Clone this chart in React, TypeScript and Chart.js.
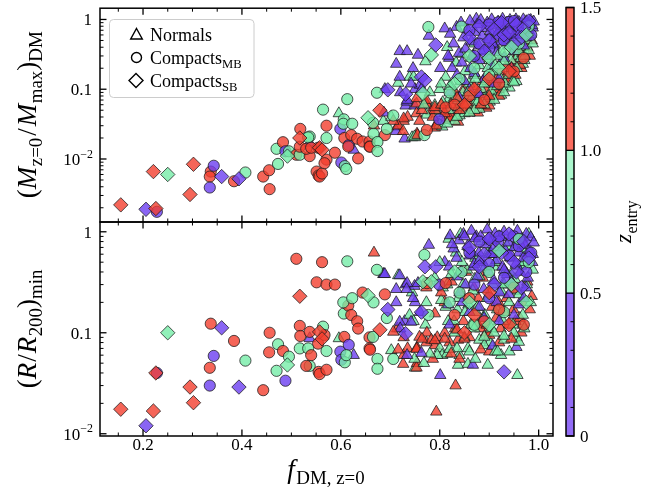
import React, { useEffect, useRef } from 'react';
import { Chart, registerables } from 'chart.js';

Chart.register(...registerables);

const W = 659;
const H = 498;

// ---------------- axes, ticks ----------------
const xRange = [0.113, 1.029];
const topRange = [0.00125, 1.45];
const botRange = [0.0095, 1.25];
const xMajorTicks = [0.2, 0.4, 0.6, 0.8, 1.0];
const xTickLabels = ['0.2', '0.4', '0.6', '0.8', '1.0'];
const xMinorTicks = [0.15, 0.25, 0.3, 0.35, 0.45, 0.5, 0.55, 0.65, 0.7, 0.75, 0.85, 0.9, 0.95];
const yMajorTicks = [0.01, 0.1, 1];
const yTickLabels = ['10|−2', '0.1', '1'];
const logDecades = [0.001, 0.01, 0.1];
const zTicks = [0, 0.5, 1.0, 1.5];
const zTickLabels = ['0', '0.5', '1.0', '1.5'];
const zMinorTicks = [0.1, 0.2, 0.3, 0.4, 0.6, 0.7, 0.8, 0.9, 1.1, 1.2, 1.3, 1.4];
const zBinEdges = [0, 0.5, 1.0, 1.5];
const legendLabels = ['Normals', 'Compacts|MB', 'Compacts|SB'];

// ---------------- data: Normals (triangles) ----------------
const normalsSparseFdm = [0.537,0.596,0.626,0.686,0.687,0.714,0.716,0.689,0.729,0.744, 0.75,0.754,0.79,0.727,0.735,0.731,0.749,0.753,0.773,0.79, 0.719,0.734,0.712,0.756,0.771,0.778,0.81,0.815,0.819,0.733, 0.739,0.747,0.75,0.76,0.753,0.774,0.783,0.773,0.795,0.81, 0.837,0.8,0.805,0.749,0.755,0.712,0.727,0.877,0.894,0.857, 0.901,0.924,0.941,0.955,0.965,0.968,0.874,0.988,0.832,0.793, 0.801,0.957,0.667];
const normalsSparseMass = [0.017,0.045,0.0135,0.035,0.046,0.029,0.123,0.1,0.0195,0.0204, 0.0204,0.023,0.028,0.035,0.04,0.058,0.058,0.062,0.062,0.059, 0.35,0.35,0.23,0.31,0.25,0.58,0.74,0.4,0.28,0.066, 0.15,0.15,0.1,0.115,0.074,0.06,0.048,0.043,0.033,0.036, 0.034,0.031,0.029,0.021,0.022,0.025,0.038,0.046,0.054,0.05, 0.066,0.083,0.105,0.13,0.2,0.23,1.02,0.76,0.04,0.03, 0.2,0.3,0.03];
const normalsSparseRmin = [0.088,0.088,0.06,0.38,0.38,0.11,0.37,0.38,0.13,0.25, 0.045,0.05,0.075,0.06,0.07,0.3,0.29,0.07,0.08,0.35, 0.37,0.31,0.27,0.31,0.12,0.74,0.5,0.3,0.45,0.27, 0.15,0.13,0.2,0.16,0.045,0.1,0.085,0.2,0.09,0.1, 0.085,0.07,0.06,0.055,0.07,0.2,0.09,0.12,0.1,0.07, 0.08,0.06,0.065,0.09,0.1,0.12,0.9,0.6,0.03,0.0165, 0.038,0.038,0.62];
const normalsSparseZ = [0.3,0.8,0.3,0.8,0.3,1.2,0.8,0.3,0.3,0.8, 0.8,1.2,1.2,1.2,1.2,0.3,0.3,1.2,1.2,0.8, 0.3,0.3,0.3,0.3,0.8,0.3,0.3,0.8,0.3,0.3, 0.8,0.8,0.3,0.3,1.2,1.2,1.2,0.8,1.2,1.2, 1.2,0.8,0.8,0.8,1.2,0.3,1.2,1.2,1.2,0.8, 0.8,0.8,0.8,0.8,1.2,0.8,0.3,0.3,1.2,1.2, 0.3,0.8,1.2];

const normalsGreenFdm = [0.8,0.806,0.812,0.818,0.823,0.829,0.833,0.838,0.842,0.847, 0.851,0.855,0.859,0.863,0.867,0.872,0.876,0.88,0.884,0.888, 0.892,0.896,0.9,0.904,0.908,0.912,0.916,0.92,0.924,0.928, 0.932,0.936,0.94,0.944,0.948,0.952,0.956,0.96,0.964,0.968, 0.972,0.976,0.98,0.984,0.988, 0.83,0.85,0.87,0.89,0.91,0.93,0.95, 0.845,0.87,0.9,0.93,0.955,0.97, 0.815,0.835,0.86,0.795];
const normalsGreenMass = [0.1,0.065,0.15,0.05,0.11,0.075,0.24,0.055,0.13,0.09, 0.18,0.06,0.12,0.28,0.08,0.16,0.065,0.22,0.1,0.35, 0.075,0.14,0.26,0.095,0.18,0.42,0.11,0.22,0.14,0.32, 0.12,0.5,0.16,0.26,0.13,0.38,0.2,0.6,0.28,0.4, 0.3,0.5,0.36,0.62,0.45, 0.035,0.045,0.05,0.06,0.07,0.09,0.125, 0.32,0.45,0.55,0.7,0.8,0.7, 0.032,0.04,0.046,0.045];
const normalsGreenRmin = [0.5,0.28,0.18,0.85,0.38,0.13,0.62,0.22,0.95,0.3, 0.16,0.42,0.7,0.12,0.26,0.55,0.18,0.36,0.8,0.14, 0.45,0.22,0.65,0.11,0.3,0.5,0.17,0.9,0.26,0.13, 0.4,0.72,0.2,0.55,0.12,0.34,0.8,0.24,0.46,0.15, 0.62,0.3,0.95,0.2,0.42, 0.1,0.09,0.11,0.075,0.1,0.085,0.1, 0.5,0.34,0.6,0.3,0.7,0.5, 0.062,0.07,0.065,0.06];
const normalsGreenZ = [0.8,0.8,0.8,0.8,0.8,0.8,0.8,0.8,0.8,0.8, 0.8,0.8,0.8,0.8,0.8,0.8,0.8,0.8,0.8,0.8, 0.8,0.8,0.8,0.8,0.8,0.8,0.8,0.8,0.8,0.8, 0.8,0.8,0.8,0.8,0.8,0.8,0.8,0.8,0.8,0.8, 0.8,0.8,0.8,0.8,0.8, 0.8,0.8,0.8,0.8,0.8,0.8,0.8, 0.8,0.8,0.8,0.8,0.8,0.8, 0.8,0.8,0.8,0.8];

// lower band of the dense cluster (mostly high z_entry, some mid)
const normalsBandFdm = [0.81,0.817,0.824,0.831,0.836,0.842,0.848,0.853,0.858,0.864, 0.869,0.874,0.878,0.882,0.887,0.891,0.895,0.9,0.906,0.91, 0.914,0.919,0.923,0.927,0.931,0.935,0.94,0.944,0.949,0.953, 0.958,0.962,0.967,0.971,0.977,0.982,0.986, 0.86,0.88,0.9,0.92,0.82,0.84];
const normalsBandMass = [0.048,0.07,0.04,0.09,0.055,0.065,0.1,0.05,0.075,0.058, 0.11,0.07,0.09,0.06,0.13,0.08,0.1,0.075,0.12,0.09, 0.15,0.1,0.18,0.11,0.14,0.22,0.13,0.17,0.25,0.16, 0.3,0.22,0.33,0.26,0.4,0.3,0.5, 0.046,0.052,0.058,0.08,0.038,0.042];
const normalsBandRmin = [0.2,0.13,0.32,0.11,0.17,0.25,0.13,0.4,0.19,0.12, 0.28,0.16,0.22,0.11,0.35,0.15,0.12,0.24,0.18,0.45, 0.14,0.2,0.11,0.3,0.16,0.22,0.12,0.38,0.17,0.13, 0.26,0.14,0.2,0.11,0.32,0.17,0.23, 0.09,0.085,0.095,0.08,0.08,0.06];
const normalsBandZ = [1.2,0.8,1.2,1.2,0.8,1.2,1.2,1.2,0.8,1.2, 1.2,0.8,1.2,1.2,1.2,0.8,1.2,1.2,1.2,0.8, 1.2,1.2,1.2,0.8,1.2,1.2,1.2,0.8,1.2,1.2, 0.8,1.2,1.2,0.8,1.2,1.2,1.2, 1.2,0.8,1.2,1.2,1.2,0.8];

const normalsPurpleFdm = [0.821,0.828,0.834,0.839,0.843,0.848,0.852,0.856,0.861,0.864, 0.868,0.871,0.876,0.879,0.883,0.886,0.889,0.893,0.896,0.899, 0.902,0.905,0.909,0.912,0.915,0.918,0.921,0.924,0.927,0.93, 0.933,0.936,0.939,0.942,0.945,0.948,0.951,0.954,0.957,0.96, 0.963,0.966,0.969,0.972,0.975,0.978,0.981,0.984,0.987,0.99, 0.845,0.862,0.88,0.898,0.915,0.94,0.96,0.975, 0.825,0.835,0.85,0.87,0.905,0.93,0.95,0.97, 0.89,0.91,0.86,0.82,0.84,0.88,0.92,0.945];
const normalsPurpleMass = [0.62,0.45,0.78,0.33,0.9,0.55,0.38,0.72,0.95,0.48, 0.3,0.66,0.85,0.42,0.98,0.58,0.36,0.75,0.9,0.52, 0.68,1.0,0.43,0.82,0.6,0.93,0.72,0.48,1.02,0.8, 0.62,0.9,0.55,0.98,0.7,0.84,0.6,1.0,0.76,0.92, 0.66,0.86,1.0,0.78,0.94,0.7,0.88,0.98,0.82,0.93, 0.24,0.2,0.26,0.3,0.34,0.42,0.5,0.55, 0.2,0.16,0.13,0.17,0.22,0.28,0.35,0.42, 0.14,0.12,0.1,0.09,0.075,0.085,0.14,0.2];
const normalsPurpleRmin = [0.92,0.68,0.55,0.82,0.4,0.95,0.3,0.72,0.58,1.02, 0.45,0.86,0.36,0.62,0.9,0.5,0.27,0.75,1.05,0.4, 0.6,0.82,0.33,0.96,0.52,0.7,0.25,0.88,0.45,1.0, 0.65,0.38,0.78,0.56,0.92,0.3,0.7,0.48,1.02,0.62, 0.4,0.85,0.55,0.74,0.95,0.35,0.66,0.88,0.5,0.78, 0.2,0.62,0.18,0.85,0.2,0.24,0.19,0.28, 0.75,0.36,0.9,0.48,0.6,0.42,0.15,0.22, 0.14,0.7,0.16,0.12,0.25,0.52,0.13,0.32];
const normalsPurpleZ = [0.3,0.3,0.3,0.3,0.3,0.3,0.3,0.3,0.3,0.3, 0.3,0.3,0.3,0.3,0.3,0.3,0.3,0.3,0.3,0.3, 0.3,0.3,0.3,0.3,0.3,0.3,0.3,0.3,0.3,0.3, 0.3,0.3,0.3,0.3,0.3,0.3,0.3,0.3,0.3,0.3, 0.3,0.3,0.3,0.3,0.3,0.3,0.3,0.3,0.3,0.3, 0.3,0.3,0.3,0.3,0.3,0.3,0.3,0.3, 0.3,0.3,0.3,0.3,0.3,0.3,0.3,0.3, 0.3,0.3,0.3,0.3,0.3,0.3,0.3,0.3];

const normalsLowFdm = [0.702,0.716,0.726,0.734,0.753,0.759,0.764,0.786,0.78,0.79, 0.81,0.746,0.742,0.79,0.803,0.817,0.773,0.803,0.719,0.72, 0.706,0.763,0.768,0.82,0.823,0.837,0.84,0.857,0.867,0.872, 0.883,0.897,0.9,0.907,0.912,0.917,0.955,0.96,0.945,0.93, 0.89,0.85,0.835];
const normalsLowMass = [0.04,0.03,0.025,0.07,0.045,0.035,0.05,0.04,0.09,0.05, 0.045,0.2,0.12,0.055,0.12,0.3,0.07,0.06,0.15,0.09, 0.035,0.1,0.06,0.11,0.06,0.07,0.05,0.09,0.3,0.14, 0.06,0.2,0.08,0.45,0.22,0.3,0.6,0.35,0.2,0.25, 0.12,0.06,0.075];
const normalsLowRmin = [0.067,0.068,0.049,0.06,0.069,0.091,0.087,0.055,0.062,0.084, 0.087,0.22,0.128,0.155,0.21,0.19,0.28,0.25,0.128,0.11, 0.102,0.063,0.05,0.069,0.062,0.048,0.055,0.049,0.048,0.055, 0.068,0.048,0.065,0.074,0.065,0.065,0.072,0.081,0.087,0.093, 0.091,0.087,0.107];
const normalsLowZ = [0.8,1.2,1.2,0.3,1.2,1.2,1.2,1.2,0.8,1.2, 1.2,0.3,0.3,1.2,0.8,0.3,1.2,1.2,0.3,0.3, 1.2,0.3,0.8,0.8,1.2,0.8,1.2,0.8,0.3,0.8, 1.2,0.8,1.2,0.3,0.8,0.8,0.3,0.8,1.2,0.8, 0.8,1.2,1.2];

// ---------------- data: Compacts MB (circles) ----------------
const mbFdm = [0.228,0.337,0.335,0.343,0.335,0.384,0.407,0.443,0.455,0.456, 0.473,0.47,0.483,0.488,0.495,0.51,0.517,0.517,0.518,0.537, 0.537,0.53,0.551,0.555,0.557,0.562,0.554,0.564,0.571,0.571, 0.571,0.567,0.588,0.599,0.601,0.613,0.608,0.607,0.616,0.606, 0.615,0.605,0.623,0.621,0.633,0.644,0.658,0.658,0.635,0.611, 0.666,0.689,0.665,0.673,0.693,0.706,0.769,0.774,0.799,0.812, 0.777,0.844,0.918,0.659,0.674,0.674,0.534,0.54, 0.86,0.88, 0.9,0.92,0.94,0.96,0.975,0.985,0.87,0.9,0.93,0.95, 0.84,0.87,0.9,0.93,0.96,0.98,0.82,0.83,0.86,0.89, 0.92,0.95,0.97];
const mbMass = [0.00175,0.0066,0.0056,0.008,0.0039,0.0048,0.0064,0.0056,0.0069,0.0037, 0.0085,0.014,0.0174,0.0129,0.0129,0.0115,0.0115,0.015,0.027,0.021, 0.011,0.014,0.0066,0.0058,0.0056,0.0062,0.0145,0.051,0.03,0.02, 0.0098,0.0087,0.0123,0.027,0.0089,0.072,0.0079,0.02,0.0158,0.037, 0.0151,0.032,0.032,0.022,0.0195,0.0178,0.0178,0.0151,0.0102,0.0072, 0.023,0.022,0.033,0.089,0.027,0.042,0.022,0.026,0.037,0.055, 0.78,0.79,0.91,0.015,0.0175,0.013,0.0204,0.0145, 0.7,0.45, 0.85,0.6,0.92,0.7,0.85,0.6,0.3,0.38,0.5,0.95, 0.14,0.2,0.16,0.35,0.45,0.8,0.09,0.06,0.08,0.07, 0.12,0.18,0.28];
const mbRmin = [0.04,0.123,0.045,0.059,0.03,0.083,0.053,0.027,0.064,0.1, 0.077,0.042,0.066,0.0335,0.058,0.54,0.07,0.117,0.093,0.047, 0.102,0.047,0.316,0.041,0.039,0.5,0.078,0.115,0.3,0.066, 0.043,0.095,0.3,0.065,0.054,0.51,0.051,0.091,0.076,0.155, 0.186,0.2,0.22,0.15,0.13,0.25,0.09,0.07,0.11,0.06, 0.2,0.24,0.091,0.42,0.14,0.055,0.59,0.31,0.3,0.31, 0.15,0.4,0.8,0.068,0.055,0.044,0.07,0.06, 0.62,0.8, 0.48,0.9,0.58,0.72,0.4,0.62,0.3,0.22,0.35,0.9, 0.25,0.12,0.4,0.16,0.85,0.5,0.2,0.15,0.22,0.13, 0.17,0.28,0.12];
const mbZ = [0.3,1.2,1.2,0.3,0.3,1.2,0.8,1.2,1.2,1.2, 0.8,0.8,1.2,0.3,0.8,1.2,0.8,1.2,1.2,0.8, 1.2,1.2,1.2,1.2,1.2,1.2,1.2,0.8,1.2,0.8, 1.2,1.2,1.2,0.3,0.3,0.8,0.8,1.2,0.3,0.8, 1.2,0.8,0.8,1.2,1.2,1.2,1.2,1.2,1.2,0.8, 0.8,1.2,0.8,0.8,0.8,0.8,0.8,1.2,0.3,1.2, 0.8,0.8,0.3,1.2,0.8,0.8,0.8,1.2, 0.3,0.3, 0.3,0.3,0.3,0.3,0.3,0.3,0.3,0.3,0.3,0.3, 0.8,0.8,0.8,0.8,0.8,0.8,0.8,1.2,1.2,1.2, 1.2,1.2,1.2];

// ---------------- data: Compacts SB (diamonds) ----------------
const sbFdm = [0.155,0.206,0.226,0.221,0.25,0.295,0.302,0.359,0.394,0.492, 0.517,0.557,0.562,0.655,0.679,0.695,0.731,0.763,0.77,0.766, 0.783,0.792,0.93,0.86,0.88,0.9,0.91,0.925,0.94,0.955, 0.97,0.98,0.965,0.89,0.95,0.86,0.9,0.945,0.975,0.92, 0.83,0.87,0.9,0.94,0.85];
const sbMass = [0.0022,0.0019,0.00195,0.0066,0.006,0.0031,0.0084,0.0056,0.0052,0.011, 0.02,0.0145,0.0135,0.039,0.05,0.098,0.085,0.15,0.135,0.087, 0.31,0.43,0.6,0.55,0.8,0.5,0.72,0.9,0.65,0.85, 0.75,0.95,0.55,0.35,0.45,0.3,0.28,0.4,0.6,0.2, 0.12,0.1,0.14,0.18,0.06];
const sbRmin = [0.0175,0.012,0.04,0.0168,0.1,0.029,0.0203,0.112,0.029,0.048, 0.23,0.102,0.087,0.234,0.107,0.17,0.098,0.16,0.45,0.32, 0.32,0.45,0.041,0.7,0.45,0.85,0.3,0.62,0.95,0.4, 0.8,0.55,0.28,0.6,0.5,0.2,0.12,0.3,0.2,0.65, 0.4,0.15,0.25,0.12,0.1];
const sbZ = [1.2,0.3,1.2,1.2,0.8,1.2,1.2,0.3,0.3,0.8, 1.2,1.2,1.2,0.8,1.2,0.3,0.3,0.3,0.3,0.8, 0.8,0.3,0.3,0.3,0.3,0.3,0.3,0.3,0.3,0.3, 0.3,0.3,0.3,0.3,0.3,0.8,0.8,0.8,0.8,0.8, 0.8,1.2,1.2,1.2,1.2];

// drawing order: sparse, lower band, green, purple, low-Rmin group
const normalsFdm = [...normalsSparseFdm, ...normalsBandFdm, ...normalsGreenFdm, ...normalsPurpleFdm, ...normalsLowFdm];
const normalsMass = [...normalsSparseMass, ...normalsBandMass, ...normalsGreenMass, ...normalsPurpleMass, ...normalsLowMass];
const normalsRmin = [...normalsSparseRmin, ...normalsBandRmin, ...normalsGreenRmin, ...normalsPurpleRmin, ...normalsLowRmin];
const normalsZ = [...normalsSparseZ, ...normalsBandZ, ...normalsGreenZ, ...normalsPurpleZ, ...normalsLowZ];

// ---------------- styling ----------------
const SERIF = '"Liberation Serif", "Times New Roman", Times, serif';
const markerColors = ['rgba(108,62,240,0.8)', 'rgba(118,236,168,0.8)', 'rgba(242,62,46,0.8)'];
const colorbarColors = ['rgb(146,108,246)', 'rgb(170,246,204)', 'rgb(250,108,94)'];
const EDGE = 'rgba(25,25,25,0.75)';
const PLOT_L = 100, PLOT_R = 553, TOP_T = 7.5, MID = 222, BOT_B = 436;
const CB_L = 566, CB_R = 574;
const MAJ = 6.5, MIN = 3.5;
const LABEL_SIZE = 27;

const zColor = (z: number) => (z < zBinEdges[1] ? markerColors[0] : z < zBinEdges[2] ? markerColors[1] : markerColors[2]);

type Seg = { t: string; it?: boolean; sub?: boolean; sup?: boolean; gap?: number };

function drawRich(ctx: CanvasRenderingContext2D, segs: Seg[], x: number, y: number, size: number, align: 'left' | 'center' | 'right', rotate = false) {
  const small = size * 0.7;
  const fontOf = (s: Seg) => `${s.it ? 'italic ' : ''}${s.sub || s.sup ? small : size}px ${SERIF}`;
  let total = 0;
  const ws = segs.map((s) => {
    ctx.font = fontOf(s);
    const w = ctx.measureText(s.t).width + (s.gap ?? 0);
    total += w;
    return w;
  });
  ctx.save();
  ctx.translate(x, y);
  if (rotate) ctx.rotate(-Math.PI / 2);
  ctx.fillStyle = '#000';
  ctx.textBaseline = 'alphabetic';
  ctx.textAlign = 'left';
  let cx = align === 'left' ? 0 : align === 'right' ? -total : -total / 2;
  segs.forEach((s, i) => {
    ctx.font = fontOf(s);
    const dy = s.sub ? size * 0.24 : s.sup ? -size * 0.42 : 0;
    ctx.fillText(s.t, cx, dy);
    cx += ws[i];
  });
  ctx.restore();
}

function line(ctx: CanvasRenderingContext2D, x1: number, y1: number, x2: number, y2: number, w: number) {
  ctx.lineWidth = w;
  ctx.beginPath();
  ctx.moveTo(x1, y1);
  ctx.lineTo(x2, y2);
  ctx.stroke();
}

function logMinors(range: number[]) {
  const out: number[] = [];
  for (const d of logDecades) for (let k = 2; k <= 9; k++) {
    const v = d * k;
    if (v > range[0] && v < range[1]) out.push(v);
  }
  return out;
}

function drawPanelFrame(chart: any, range: number[]) {
  const { ctx, chartArea: ca } = chart;
  const xs = chart.scales.x;
  const ys = chart.scales.y;
  ctx.save();
  ctx.strokeStyle = '#000';
  for (const v of xMajorTicks) {
    const p = xs.getPixelForValue(v);
    line(ctx, p, ca.bottom, p, ca.bottom - MAJ, 1.3);
    line(ctx, p, ca.top, p, ca.top + MAJ, 1.3);
  }
  for (const v of xMinorTicks) {
    const p = xs.getPixelForValue(v);
    line(ctx, p, ca.bottom, p, ca.bottom - MIN, 1);
    line(ctx, p, ca.top, p, ca.top + MIN, 1);
  }
  for (const v of yMajorTicks) {
    const p = ys.getPixelForValue(v);
    line(ctx, ca.left, p, ca.left + MAJ, p, 1.3);
    line(ctx, ca.right, p, ca.right - MAJ, p, 1.3);
  }
  for (const v of logMinors(range)) {
    const p = ys.getPixelForValue(v);
    line(ctx, ca.left, p, ca.left + MIN, p, 1);
    line(ctx, ca.right, p, ca.right - MIN, p, 1);
  }
  ctx.lineWidth = 1.5;
  ctx.strokeRect(ca.left, ca.top, ca.right - ca.left, ca.bottom - ca.top);
  yMajorTicks.forEach((v, i) => {
    const p = ys.getPixelForValue(v);
    const lab = yTickLabels[i];
    if (lab.includes('|')) {
      const [b, e] = lab.split('|');
      drawRich(ctx, [{ t: b }, { t: e, sup: true }], ca.left - 7, p + 5.8, 17, 'right');
    } else {
      drawRich(ctx, [{ t: lab }], ca.left - 8, p + 5.8, 17, 'right');
    }
  });
  ctx.restore();
}

function drawLegend(ctx: CanvasRenderingContext2D) {
  ctx.save();
  const x = 109.5, y = 19.5, w = 144.5, h = 78, r = 4;
  ctx.beginPath();
  ctx.moveTo(x + r, y);
  ctx.arcTo(x + w, y, x + w, y + h, r);
  ctx.arcTo(x + w, y + h, x, y + h, r);
  ctx.arcTo(x, y + h, x, y, r);
  ctx.arcTo(x, y, x + w, y, r);
  ctx.closePath();
  ctx.fillStyle = 'rgba(255,255,255,0.8)';
  ctx.fill();
  ctx.strokeStyle = '#cccccc';
  ctx.lineWidth = 1;
  ctx.stroke();
  ctx.strokeStyle = '#000';
  ctx.lineWidth = 1.4;
  const tx = 136.5, ty = 34.5;
  ctx.beginPath();
  ctx.moveTo(tx, ty - 6);
  ctx.lineTo(tx + 5.8, ty + 4.5);
  ctx.lineTo(tx - 5.8, ty + 4.5);
  ctx.closePath();
  ctx.stroke();
  ctx.beginPath();
  ctx.arc(136.5, 57.5, 5, 0, Math.PI * 2);
  ctx.stroke();
  const dx = 136, dy = 80.5, d = 7;
  ctx.beginPath();
  ctx.moveTo(dx - d, dy);
  ctx.lineTo(dx, dy - d);
  ctx.lineTo(dx + d, dy);
  ctx.lineTo(dx, dy + d);
  ctx.closePath();
  ctx.stroke();
  const baselines = [40.5, 63.5, 86.5];
  legendLabels.forEach((lab, i) => {
    const [main, sub] = lab.split('|');
    const segs: Seg[] = [{ t: main }];
    if (sub) segs.push({ t: sub, sub: true });
    drawRich(ctx, segs, 150, baselines[i], 18, 'left');
  });
  ctx.restore();
}

function scatterDatasets(panel: 'top' | 'bot') {
  const groups = [
    { fdm: normalsFdm, y: panel === 'top' ? normalsMass : normalsRmin, z: normalsZ, style: 'triangle', r: 6.6, order: 3 },
    { fdm: mbFdm, y: panel === 'top' ? mbMass : mbRmin, z: mbZ, style: 'circle', r: 5.6, order: 2 },
    { fdm: sbFdm, y: panel === 'top' ? sbMass : sbRmin, z: sbZ, style: 'rectRot', r: 7.2, order: 1 },
  ];
  return groups.map((g) => ({
    data: g.fdm.map((x, i) => ({ x, y: g.y[i] })),
    pointStyle: g.style,
    pointRadius: g.r,
    pointBackgroundColor: g.z.map(zColor),
    pointBorderColor: EDGE,
    pointBorderWidth: 1,
    showLine: false,
    order: g.order,
    clip: 0,
  }));
}

function panelOptions(range: number[], padTop: number, padBottom: number) {
  return {
    responsive: false,
    animation: false as const,
    devicePixelRatio: 1,
    events: [] as any[],
    layout: { padding: { left: PLOT_L, right: W - PLOT_R, top: padTop, bottom: padBottom } },
    plugins: { legend: { display: false }, tooltip: { enabled: false }, title: { display: false } },
    scales: {
      x: { type: 'linear' as const, min: xRange[0], max: xRange[1], display: false },
      y: { type: 'logarithmic' as const, min: range[0], max: range[1], display: false },
    },
  };
}

function makeTop(canvas: HTMLCanvasElement) {
  const plugin = {
    id: 'topDeco',
    afterDatasetsDraw(chart: any) {
      const { ctx } = chart;
      drawPanelFrame(chart, topRange);
      drawLegend(ctx);
      drawRich(
        ctx,
        [
          { t: '(' },
          { t: 'M', it: true, gap: 0.5 },
          { t: 'z=0', sub: true, gap: 2 },
          { t: '/', gap: 2 },
          { t: 'M', it: true, gap: 0.5 },
          { t: 'max', sub: true },
          { t: ')' },
          { t: 'DM', sub: true },
        ],
        36,
        (TOP_T + MID) / 2,
        LABEL_SIZE,
        'center',
        true,
      );
    },
  };
  return new Chart(canvas, {
    type: 'scatter',
    data: { datasets: scatterDatasets('top') as any },
    options: panelOptions(topRange, TOP_T, H - MID) as any,
    plugins: [plugin],
  });
}

function makeBot(canvas: HTMLCanvasElement) {
  const plugin = {
    id: 'botDeco',
    afterDatasetsDraw(chart: any) {
      const { ctx } = chart;
      drawPanelFrame(chart, botRange);
      const xs = chart.scales.x;
      xMajorTicks.forEach((v, i) => {
        drawRich(ctx, [{ t: xTickLabels[i] }], xs.getPixelForValue(v), BOT_B + 13.5, 17, 'center');
      });
      drawRich(ctx, [{ t: 'f', it: true, gap: 1.5 }, { t: 'DM, z=0', sub: true }], 326, 478, LABEL_SIZE, 'center');
      drawRich(
        ctx,
        [
          { t: '(' },
          { t: 'R', it: true, gap: 1 },
          { t: '/', gap: 1 },
          { t: 'R', it: true, gap: 0.5 },
          { t: '200', sub: true },
          { t: ')' },
          { t: 'min', sub: true },
        ],
        36,
        (MID + BOT_B) / 2,
        LABEL_SIZE,
        'center',
        true,
      );
    },
  };
  return new Chart(canvas, {
    type: 'scatter',
    data: { datasets: scatterDatasets('bot') as any },
    options: panelOptions(botRange, MID, H - BOT_B) as any,
    plugins: [plugin],
  });
}

function makeColorbar(canvas: HTMLCanvasElement) {
  const segments = zBinEdges.slice(1).map((e, i) => e - zBinEdges[i]);
  const plugin = {
    id: 'cbDeco',
    afterDatasetsDraw(chart: any) {
      const { ctx, chartArea: ca } = chart;
      const ys = chart.scales.y;
      ctx.save();
      ctx.strokeStyle = '#000';
      for (const v of zTicks) {
        const p = ys.getPixelForValue(v);
        line(ctx, ca.left, p, ca.right, p, 1.3);
      }
      for (const v of zMinorTicks) {
        const p = ys.getPixelForValue(v);
        line(ctx, ca.right, p, ca.right - MIN, p, 1);
      }
      ctx.lineWidth = 1.5;
      ctx.strokeRect(ca.left, ca.top, ca.right - ca.left, ca.bottom - ca.top);
      zTicks.forEach((v, i) => {
        drawRich(ctx, [{ t: zTickLabels[i] }], ca.right + 6, ys.getPixelForValue(v) + 5.8, 17, 'left');
      });
      drawRich(ctx, [{ t: 'z', it: true, gap: 0.5 }, { t: 'entry', sub: true }], 631, (TOP_T + BOT_B) / 2, 23, 'center', true);
      ctx.restore();
    },
  };
  return new Chart(canvas, {
    type: 'bar',
    data: {
      labels: ['z'],
      datasets: segments.map((v, i) => ({
        data: [v],
        backgroundColor: colorbarColors[i],
        borderWidth: 0,
        barPercentage: 1,
        categoryPercentage: 1,
      })),
    },
    options: {
      responsive: false,
      animation: false,
      devicePixelRatio: 1,
      events: [],
      layout: { padding: { left: CB_L, right: W - CB_R, top: TOP_T, bottom: H - BOT_B } },
      plugins: { legend: { display: false }, tooltip: { enabled: false } },
      scales: {
        x: { stacked: true, display: false },
        y: { stacked: true, min: zTicks[0], max: zTicks[zTicks.length - 1], display: false },
      },
    } as any,
    plugins: [plugin],
  });
}

export default function App() {
  const topRef = useRef<HTMLCanvasElement>(null);
  const botRef = useRef<HTMLCanvasElement>(null);
  const cbRef = useRef<HTMLCanvasElement>(null);

  useEffect(() => {
    const charts: Chart[] = [];
    if (topRef.current) charts.push(makeTop(topRef.current));
    if (botRef.current) charts.push(makeBot(botRef.current));
    if (cbRef.current) charts.push(makeColorbar(cbRef.current));
    return () => charts.forEach((c) => c.destroy());
  }, []);

  const cs: React.CSSProperties = { position: 'absolute', left: 0, top: 0, width: W, height: H };
  return (
    <div style={{ position: 'fixed', left: 0, top: 0, width: W, height: H, background: '#fff', overflow: 'hidden' }}>
      <canvas ref={topRef} width={W} height={H} style={cs} />
      <canvas ref={botRef} width={W} height={H} style={cs} />
      <canvas ref={cbRef} width={W} height={H} style={cs} />
    </div>
  );
}
